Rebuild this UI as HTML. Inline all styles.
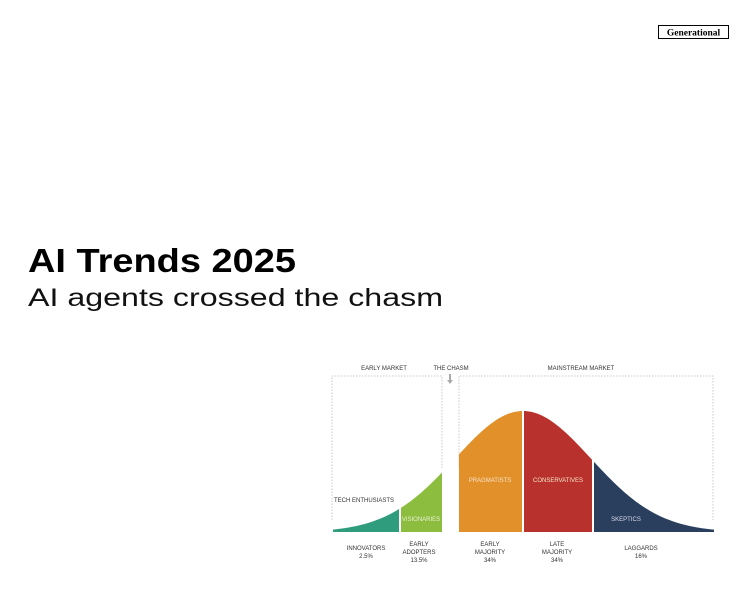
<!DOCTYPE html>
<html><head><meta charset="utf-8"><style>
html,body{margin:0;padding:0;background:#fff;width:751px;height:597px;overflow:hidden}
svg{display:block}
</style></head><body>
<svg id="s" width="751" height="597" xmlns="http://www.w3.org/2000/svg" font-family="Liberation Sans, sans-serif">
<rect x="0" y="0" width="751" height="597" fill="#fff"/>
<rect x="658.5" y="25.5" width="70" height="13" fill="#fff" stroke="#000" stroke-width="1"/>
<text x="693.5" y="35.5" font-family="Liberation Serif, serif" font-size="9.5" font-weight="bold" text-anchor="middle">Generational</text>
<text x="28" y="272" font-size="33" font-weight="bold" textLength="268" lengthAdjust="spacingAndGlyphs">AI Trends 2025</text>
<text x="28" y="306" font-size="25" textLength="415" lengthAdjust="spacingAndGlyphs" fill="#111">AI agents crossed the chasm</text>
<g fill="none" stroke="#bbb" stroke-width="0.8" stroke-dasharray="1.5,1.5">
<path d="M332 520 V376 H442 V468"/>
<path d="M459 468 V376 H713 V520"/>
</g>
<g id="curves"></g>
<path d="M449 374 v6 h-2 l3 4 l3 -4 h-2 v-6z" fill="#aaa"/>
<g font-size="6" fill="#333" text-anchor="middle">
<text x="384" y="370">EARLY MARKET</text>
<text x="451" y="370">THE CHASM</text>
<text x="581" y="370">MAINSTREAM MARKET</text>
<text x="364" y="502">TECH ENTHUSIASTS</text>
<text x="366" y="550">INNOVATORS</text><text x="366" y="558">2.5%</text>
<text x="419" y="546">EARLY</text><text x="419" y="554">ADOPTERS</text><text x="419" y="562">13.5%</text>
<text x="490" y="546">EARLY</text><text x="490" y="554">MAJORITY</text><text x="490" y="562">34%</text>
<text x="557" y="546">LATE</text><text x="557" y="554">MAJORITY</text><text x="557" y="562">34%</text>
<text x="641" y="550">LAGGARDS</text><text x="641" y="558">16%</text>
</g>
<g font-size="6" fill="#f4e4c8" text-anchor="middle">
<text x="421" y="521" fill="#e8f0d0">VISIONARIES</text>
<text x="490" y="482">PRAGMATISTS</text>
<text x="558" y="482">CONSERVATIVES</text>
<text x="626" y="521" fill="#dde">SKEPTICS</text>
</g>
</svg>
<script>
(function(){
var base=532,c=523,sig=68,h=121;
function y(x){return base-h*Math.exp(-0.5*Math.pow((x-c)/sig,2));}
function seg(a,b,col){var d="M"+a+" "+base;for(var x=a;x<=b;x+=1)d+=" L"+x+" "+y(x).toFixed(2);d+=" L"+b+" "+y(b).toFixed(2)+" L"+b+" "+base+"Z";
var p=document.createElementNS("http://www.w3.org/2000/svg","path");p.setAttribute("d",d);p.setAttribute("fill",col);document.getElementById("curves").appendChild(p);}
seg(333,399,"#2e9c7d");seg(401,442,"#8dbd3f");seg(459,522,"#e2902a");seg(524,592,"#b8312c");seg(594,714,"#2a3e5e");
})();
</script>
</body></html>
